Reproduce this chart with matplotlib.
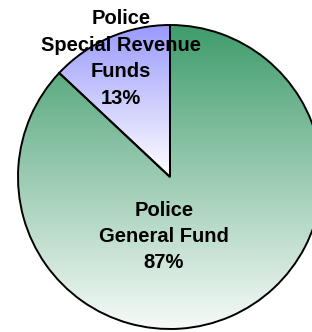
import numpy as np
import matplotlib
matplotlib.use("Agg")
import matplotlib.pyplot as plt
from matplotlib.colors import LinearSegmentedColormap

labels = ["Police\nGeneral Fund\n87%", "Police\nSpecial Revenue\nFunds\n13%"]
values = [87, 13]
top_colors = ["#3f9c6c", "#9a9afc"]
bottom_colors = ["#f7faf8", "#ffffff"]

plt.rcParams['font.family'] = ['Liberation Sans', 'DejaVu Sans']

W, H = 312, 332
fig = plt.figure(figsize=(W / 100, H / 100), dpi=100)
ax = fig.add_axes([0, 0, 1, 1])
R = 152.0
cx, cy = 170.0, 177.0

wedges, _ = ax.pie(values, startangle=90, counterclock=False, radius=1.0,
                   wedgeprops=dict(facecolor='none', edgecolor='black', linewidth=1.4))

ax.set_aspect('equal')
ax.axis('off')

for w, tc, bc in zip(wedges, top_colors, bottom_colors):
    bb = w.get_path().get_extents(w.get_patch_transform())
    cmap = LinearSegmentedColormap.from_list('g', [bc, tc])
    grad = np.linspace(0, 1, 256).reshape(-1, 1)
    im = ax.imshow(grad, cmap=cmap, origin='lower', aspect='auto',
                   extent=(bb.x0, bb.x1, bb.y0, bb.y1), zorder=0.5)
    im.set_clip_path(w)
    w.set_zorder(1)

ax.set_xlim(-cx / R, (W - cx) / R)
ax.set_ylim(-(H - cy) / R, cy / R)

def px(x, y):
    return (x - cx) / R, (cy - y) / R

ax.text(*px(164, 236.5), labels[0], ha='center', va='center', fontsize=14.5,
        fontweight='bold', linespacing=1.5, zorder=3)
ax.text(*px(121, 58.5), labels[1], ha='center', va='center', fontsize=14.5,
        fontweight='bold', linespacing=1.5, zorder=3)

fig.savefig("out.png", dpi=100)
